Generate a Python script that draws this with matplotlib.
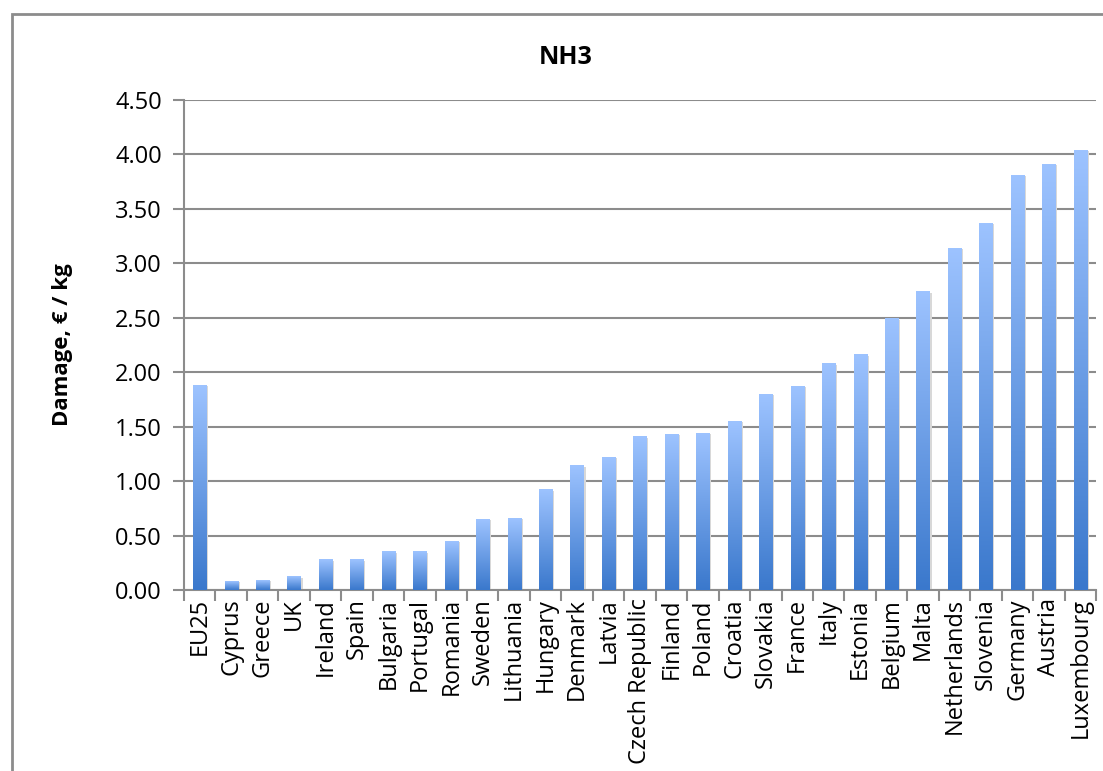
import numpy as np
import matplotlib
matplotlib.use('Agg')
import matplotlib.pyplot as plt
from matplotlib.colors import LinearSegmentedColormap
from matplotlib.patches import Rectangle

plt.rcParams['font.family'] = ['Open Sans', 'DejaVu Sans']

countries = ['EU25', 'Cyprus', 'Greece', 'UK', 'Ireland', 'Spain', 'Bulgaria',
             'Portugal', 'Romania', 'Sweden', 'Lithuania', 'Hungary', 'Denmark',
             'Latvia', 'Czech Republic', 'Finland', 'Poland', 'Croatia', 'Slovakia',
             'France', 'Italy', 'Estonia', 'Belgium', 'Malta', 'Netherlands',
             'Slovenia', 'Germany', 'Austria', 'Luxembourg']
damage = [1.88, 0.08, 0.09, 0.12, 0.28, 0.28, 0.35, 0.35, 0.45, 0.65, 0.66,
          0.92, 1.14, 1.22, 1.41, 1.43, 1.44, 1.55, 1.80, 1.87, 2.08, 2.16,
          2.49, 2.74, 3.14, 3.37, 3.81, 3.91, 4.04]
yticks = [0.0, 0.5, 1.0, 1.5, 2.0, 2.5, 3.0, 3.5, 4.0, 4.5]

fig = plt.figure(figsize=(11.03, 7.71), dpi=100)
ax = fig.add_axes([184/1103, 1 - 590/771, (1096 - 184)/1103, (590 - 100)/771])

# outer chart frame
fig.patches.append(Rectangle((12/1103, -0.05), 1.1, 1 - 14/771 + 0.05,
                             transform=fig.transFigure, fill=False,
                             edgecolor='#8c8c8c', linewidth=2))

cmap = LinearSegmentedColormap.from_list('bar', ['#3a78cc', '#9dc3ff'])
grad = np.linspace(0, 1, 256).reshape(-1, 1)
w = 0.42
for i, v in enumerate(damage):
    # soft shadow
    ax.add_patch(Rectangle((i - w/2 + 0.06, 0), w, v - 0.01, color='#d8d8d8',
                           zorder=2, linewidth=0))
    ax.imshow(grad, extent=[i - w/2, i + w/2, 0, v], origin='lower',
              cmap=cmap, aspect='auto', zorder=3)

ax.set_xlim(-0.5, len(countries) - 0.5)
ax.set_ylim(0, 4.5)

ax.set_yticks(yticks)
ax.set_yticklabels(['%.2f' % t for t in yticks], fontsize=17)
ax.set_xticks(range(len(countries)))
ax.set_xticklabels(countries, rotation=90, fontsize=17)
ax.set_xticks(np.arange(-0.5, len(countries)), minor=True)
ax.tick_params(axis='x', which='major', length=0, pad=6)
ax.tick_params(axis='x', which='minor', length=8, width=1.5, color='#8c8c8c')
ax.tick_params(axis='y', length=8, width=1.5, color='#8c8c8c', pad=8)

ax.grid(axis='y', color='#8c8c8c', linewidth=1.5, zorder=1)
ax.set_axisbelow(True)
for s in ['top', 'right']:
    ax.spines[s].set_visible(False)
for s in ['left', 'bottom']:
    ax.spines[s].set_color('#8c8c8c')
    ax.spines[s].set_linewidth(1.5)

ax.set_ylabel('Damage, € / kg', fontsize=16, fontweight='bold', labelpad=30)
fig.text(566/1103, 1 - 57/771, 'NH3', fontsize=18, fontweight='bold',
         ha='center', va='center')

plt.savefig('out.png', dpi=100)
